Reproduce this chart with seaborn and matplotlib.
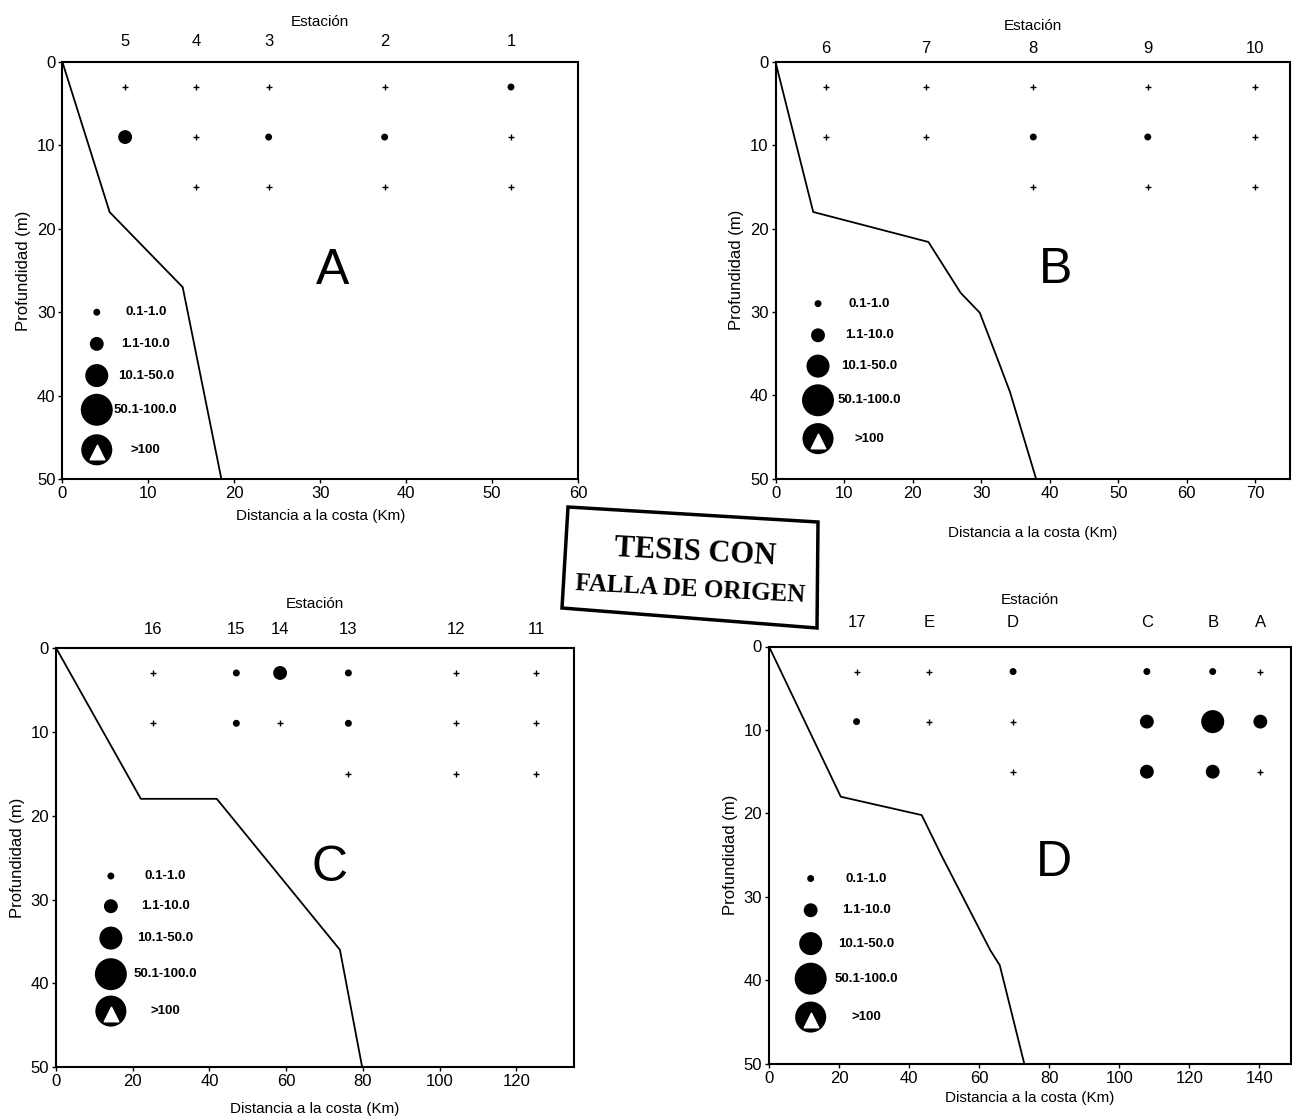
import numpy as np
import pandas as pd
import seaborn as sns
import matplotlib.pyplot as plt
from matplotlib.patches import Polygon

# Profundidades de muestreo (m)
profundidades = [3, 9, 15]

# Clase de abundancia por estacion (filas) y profundidad (columnas)
# 0 = ausente (+), None = sin muestra
# 1: 0.1-1.0  2: 1.1-10.0  3: 10.1-50.0  4: 50.1-100.0  5: >100
estaciones_A = ['5', '4', '3', '2', '1']
distancia_A = [7.3, 15.6, 24.0, 37.5, 52.2]
clases_A = [[0, 2, None], [0, 0, 0], [0, 1, 0], [0, 1, 0], [1, 0, 0]]
fondo_x_A = [0, 5.5, 14.0, 18.5]
fondo_z_A = [0, 18, 27, 50]

estaciones_B = ['6', '7', '8', '9', '10']
distancia_B = [7.3, 21.9, 37.6, 54.3, 70.0]
clases_B = [[0, 0, None], [0, 0, None], [0, 1, 0], [0, 1, 0], [0, 0, 0]]
fondo_x_B = [0, 5.5, 22.3, 27.0, 29.8, 32.5, 34.2, 38.0]
fondo_z_B = [0, 18, 21.6, 27.7, 30.1, 35.9, 39.6, 50]

estaciones_C = ['16', '15', '14', '13', '12', '11']
distancia_C = [25.3, 47.0, 58.4, 76.2, 104.3, 125.2]
clases_C = [[0, 0, None], [1, 1, None], [2, 0, None], [1, 1, 0], [0, 0, 0], [0, 0, 0]]
fondo_x_C = [0, 22.1, 41.9, 74.0, 79.8]
fondo_z_C = [0, 18, 18, 36, 50]

estaciones_D = ['17', 'E', 'D', 'C', 'B', 'A']
distancia_D = [25.0, 45.6, 69.7, 107.9, 126.7, 140.3]
clases_D = [[0, 1, None], [0, 0, None], [1, 0, 0], [1, 2, 2], [1, 3, 2], [0, 2, 0]]
fondo_x_D = [0, 20.5, 43.6, 49.2, 63.2, 65.9, 72.9]
fondo_z_D = [0, 18, 20.2, 25, 36.4, 38.2, 50]

etiquetas_clase = ['0.1-1.0', '1.1-10.0', '10.1-50.0', '50.1-100.0', '>100']
tamanos = {1: 25, 2: 100, 3: 275, 4: 530, 5: 500}

sns.set_style('ticks')
plt.rcParams['font.family'] = ['Liberation Sans', 'DejaVu Sans']
plt.rcParams['text.color'] = 'black'
plt.rcParams['axes.labelcolor'] = 'black'
plt.rcParams['xtick.color'] = 'black'
plt.rcParams['ytick.color'] = 'black'

fig = plt.figure(figsize=(12.92, 11.2), dpi=100)

W, H = 1292, 1120


def rect(left, right, top, bottom):
    return [left / W, 1 - bottom / H, (right - left) / W, (bottom - top) / H]


def tabla(dist, clases):
    filas = []
    for x, cl in zip(dist, clases):
        for z, c in zip(profundidades, cl):
            if c is not None:
                filas.append((x, z, c))
    return pd.DataFrame(filas, columns=['dist', 'prof', 'clase'])


paneles = [
    dict(letra='A', est=estaciones_A, dist=distancia_A, cls=clases_A,
         fx=fondo_x_A, fz=fondo_z_A, caja=rect(62.4, 578, 62, 479),
         xlim=60, xticks=np.arange(0, 61, 10), ley_x=(4.0, 9.7),
         ley_y=[30.0, 33.8, 37.6, 41.7, 46.5], pos_letra=(31.4, 25),
         pad_x=6, pad_top=9, pad_est=6),
    dict(letra='B', est=estaciones_B, dist=distancia_B, cls=clases_B,
         fx=fondo_x_B, fz=fondo_z_B, caja=rect(775.5, 1289.7, 62, 478.6),
         xlim=75, xticks=np.arange(0, 71, 10), ley_x=(6.2, 13.7),
         ley_y=[29.0, 32.8, 36.5, 40.6, 45.2], pos_letra=(40.8, 25),
         pad_x=18, pad_top=4, pad_est=8),
    dict(letra='C', est=estaciones_C, dist=distancia_C, cls=clases_C,
         fx=fondo_x_C, fz=fondo_z_C, caja=rect(56, 574, 647.8, 1067.3),
         xlim=135, xticks=np.arange(0, 121, 20), ley_x=(14.3, 28.5),
         ley_y=[27.2, 30.8, 34.6, 38.9, 43.3], pos_letra=(71.3, 26.2),
         pad_x=9, pad_top=8, pad_est=10),
    dict(letra='D', est=estaciones_D, dist=distancia_D, cls=clases_D,
         fx=fondo_x_D, fz=fondo_z_D, caja=rect(769, 1290.8, 646.5, 1063.8),
         xlim=149, xticks=np.arange(0, 141, 20), ley_x=(11.9, 27.7),
         ley_y=[27.8, 31.6, 35.6, 39.8, 44.4], pos_letra=(81.5, 26.0),
         pad_x=4, pad_top=12, pad_est=8),
]

for p in paneles:
    ax = fig.add_axes(p['caja'])
    df = tabla(p['dist'], p['cls'])

    # perfil del fondo
    perfil = pd.DataFrame({'x': p['fx'], 'z': p['fz']})
    sns.lineplot(data=perfil, x='x', y='z', sort=False, color='black',
                 linewidth=1.3, ax=ax)

    # muestras sin organismos
    sns.scatterplot(data=df[df['clase'] == 0], x='dist', y='prof', marker='+',
                    color='black', s=16, linewidth=1, ax=ax, legend=False)
    # muestras con organismos
    sns.scatterplot(data=df[df['clase'] > 0], x='dist', y='prof', size='clase',
                    sizes=tamanos, color='black', linewidth=0, ax=ax, legend=False)

    # leyenda de clases dentro del panel
    ley = pd.DataFrame({'x': [p['ley_x'][0]] * 5, 'y': p['ley_y'],
                        'clase': [1, 2, 3, 4, 5]})
    sns.scatterplot(data=ley, x='x', y='y', size='clase', sizes=tamanos,
                    color='black', linewidth=0, ax=ax, legend=False)
    ax.scatter([p['ley_x'][0]], [p['ley_y'][4] + 0.3], marker='^', s=110,
               color='white', zorder=5)
    for yy, txt in zip(p['ley_y'], etiquetas_clase):
        ax.text(p['ley_x'][1], yy, txt, ha='center', va='center',
                fontsize=9.5, fontweight='bold')

    ax.text(p['pos_letra'][0], p['pos_letra'][1], p['letra'], ha='center',
            va='center', fontsize=36)

    ax.set_xlim(0, p['xlim'])
    ax.set_ylim(50, 0)
    ax.set_xticks(p['xticks'])
    ax.set_yticks(np.arange(0, 51, 10))
    ax.tick_params(axis='both', labelsize=12, length=3, width=1, pad=2)
    ax.set_xlabel('Distancia a la costa (Km)', fontsize=11, labelpad=p['pad_x'])
    ax.set_ylabel('Profundidad (m)', fontsize=12)
    for s in ax.spines.values():
        s.set_visible(True)
        s.set_linewidth(1.5)
        s.set_color('black')

    top = ax.twiny()
    top.set_xlim(ax.get_xlim())
    top.set_xticks(p['dist'])
    top.set_xticklabels(p['est'])
    top.tick_params(axis='x', length=0, labelsize=12, pad=p['pad_top'])
    top.set_xlabel('Estación', fontsize=11, labelpad=p['pad_est'])
    for s in top.spines.values():
        s.set_visible(False)

# sello
sello = Polygon([[568 / W, 1 - 507 / H], [818 / W, 1 - 522 / H],
                 [817 / W, 1 - 628 / H], [562 / W, 1 - 608 / H]],
                closed=True, fill=False, edgecolor='black', linewidth=2.5,
                transform=fig.transFigure)
fig.patches.append(sello)
fig.text(695 / W, 1 - 553 / H, 'TESIS CON', ha='center', va='center',
         rotation=-3, family='Liberation Serif', fontweight='bold', fontsize=22)
fig.text(690 / W, 1 - 590 / H, 'FALLA DE ORIGEN', ha='center', va='center',
         rotation=-3, family='Liberation Serif', fontweight='bold', fontsize=18)

fig.savefig('out.png', dpi=100, facecolor='white')
